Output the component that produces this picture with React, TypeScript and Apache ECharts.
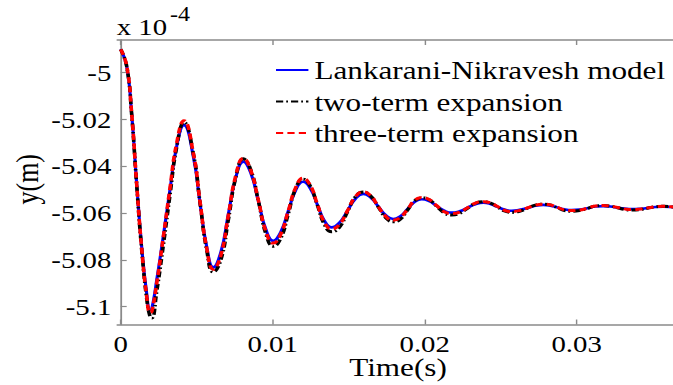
import React, { useEffect, useRef } from "react";
import * as echarts from "echarts";

// time (s)
const T = [
  0, 0.0004, 0.00072, 0.00105, 0.00138, 0.00171, 0.00193, 0.00205, 0.00237, 0.0028,
  0.00324, 0.00368, 0.00416, 0.00478, 0.00522, 0.00566, 0.00609, 0.00659, 0.00708, 0.00758,
  0.00807, 0.00856, 0.00906, 0.00955, 0.01004, 0.01053, 0.01102, 0.01151, 0.012, 0.01247,
  0.01294, 0.01341, 0.01388, 0.0144, 0.01492, 0.01544, 0.01596, 0.01645, 0.01695, 0.01744,
  0.01793, 0.0184, 0.01887, 0.01933, 0.0198, 0.0203, 0.02079, 0.02129, 0.02178, 0.0223,
  0.02282, 0.02334, 0.02386, 0.02433, 0.02479, 0.02526, 0.02572, 0.02624, 0.02676, 0.02728,
  0.0278, 0.02827, 0.02874, 0.0292, 0.02967, 0.03019, 0.03071, 0.03123, 0.03175, 0.03222,
  0.03269, 0.03315, 0.03362, 0.03414, 0.03466, 0.03518, 0.0357, 0.0362, 0.0368, 0.0375,
];

// y (x 1e-4 m)
const LANKARANI = [
  -4.99, -4.9974, -5.0174, -5.0473, -5.0744, -5.0943, -5.1014, -5.1008, -5.0886, -5.07,
  -5.0501, -5.0316, -5.0224, -5.0359, -5.0558, -5.0744, -5.0832, -5.0766, -5.0606, -5.0446,
  -5.038, -5.0429, -5.0549, -5.0669, -5.0718, -5.0681, -5.0592, -5.0503, -5.0466, -5.0494,
  -5.0564, -5.0633, -5.0661, -5.064, -5.059, -5.0539, -5.0518, -5.0534, -5.0572, -5.0609,
  -5.0625, -5.0613, -5.0583, -5.0553, -5.0541, -5.0549, -5.057, -5.059, -5.0598, -5.0592,
  -5.0577, -5.0562, -5.0556, -5.0561, -5.0573, -5.0585, -5.059, -5.0586, -5.0578, -5.0569,
  -5.0565, -5.0568, -5.0576, -5.0584, -5.0587, -5.0585, -5.0579, -5.0572, -5.057, -5.0572,
  -5.0577, -5.0581, -5.0583, -5.0582, -5.0578, -5.0574, -5.0573, -5.0574, -5.0577, -5.058,
];

const TWO_TERM = [
  -4.99, -4.9974, -5.0176, -5.0478, -5.0755, -5.0965, -5.1042, -5.1048, -5.0935, -5.074,
  -5.0525, -5.032, -5.0212, -5.0345, -5.0555, -5.0758, -5.0852, -5.08, -5.063, -5.0445,
  -5.0368, -5.0415, -5.0548, -5.0688, -5.0742, -5.0708, -5.0605, -5.0495, -5.0455, -5.0484,
  -5.0566, -5.065, -5.068, -5.066, -5.0595, -5.053, -5.051, -5.0527, -5.0574, -5.062,
  -5.0637, -5.0626, -5.0587, -5.0548, -5.0535, -5.0543, -5.0571, -5.0599, -5.0608, -5.0601,
  -5.0579, -5.0558, -5.0552, -5.0557, -5.0574, -5.0591, -5.0597, -5.0592, -5.0579, -5.0566,
  -5.0562, -5.0565, -5.0577, -5.0589, -5.0592, -5.0589, -5.058, -5.057, -5.0568, -5.057,
  -5.0577, -5.0584, -5.0587, -5.0585, -5.0579, -5.0573, -5.0571, -5.0573, -5.0578, -5.0581,
];

const THREE_TERM = [
  -4.99, -4.9972, -5.0172, -5.0474, -5.075, -5.0955, -5.1025, -5.102, -5.09, -5.0705,
  -5.0495, -5.0302, -5.0205, -5.0345, -5.0552, -5.075, -5.084, -5.078, -5.061, -5.0438,
  -5.0366, -5.0418, -5.0546, -5.0677, -5.0728, -5.069, -5.0592, -5.0492, -5.0451, -5.0481,
  -5.0562, -5.064, -5.0668, -5.0648, -5.059, -5.053, -5.0509, -5.0526, -5.0572, -5.0614,
  -5.063, -5.0618, -5.0584, -5.0546, -5.0533, -5.0542, -5.0568, -5.0594, -5.0602, -5.0596,
  -5.0577, -5.0557, -5.0551, -5.0556, -5.0572, -5.0588, -5.0593, -5.0589, -5.0578, -5.0566,
  -5.0562, -5.0565, -5.0576, -5.0586, -5.0589, -5.0587, -5.0579, -5.057, -5.0568, -5.057,
  -5.0576, -5.0582, -5.0585, -5.0583, -5.0578, -5.0573, -5.0571, -5.0573, -5.0577, -5.058,
];

const SERIES_NAMES = ["Lankarani-Nikravesh model", "two-term expansion", "three-term expansion"];
const X_TICKS = [0, 0.01, 0.02, 0.03];
const Y_TICKS = [-5.1, -5.08, -5.06, -5.04, -5.02, -5];

const S = 1.2; // horizontal stretch of the original figure
const W = 673 / S;
const FONT = "'Liberation Serif', 'Times New Roman', serif";
const GRAY = "#8a8a8a";
const X_MIN = -0.000223;
const X_MAX = 0.0375;
const Y_MIN = -5.1076;
const Y_MAX = -4.98603;

const fmt = (v: number) => String(Math.round(v * 100) / 100);

export default function App() {
  const ref = useRef<HTMLDivElement>(null);
  useEffect(() => {
    if (!ref.current) return;
    const chart = echarts.init(ref.current, null, { renderer: "svg" });
    const mk = (vals: number[]) => T.map((t, i) => [t, vals[i]]);
    const axisLine = { show: true, lineStyle: { color: GRAY, width: 1.5 } };
    const option: any = {
      animation: false,
      backgroundColor: "#fff",
      textStyle: { fontFamily: FONT },
      grid: { left: 97.75, top: 40, width: 477.8, height: 284.5, outerBoundsMode: "none" },
      xAxis: [
        {
          type: "value",
          position: "bottom",
          min: X_MIN,
          max: X_MAX,
          axisLine,
          axisTick: { show: true, inside: true, length: 5, customValues: X_TICKS, lineStyle: { color: GRAY, width: 1.2 } },
          axisLabel: { customValues: X_TICKS, color: "#000", fontSize: 24, lineHeight: 20, fontFamily: FONT, margin: 9, formatter: fmt },
          splitLine: { show: false },
          name: "Time(s)",
          nameLocation: "middle",
          nameGap: 31,
          nameMoveOverlap: false,
          nameTextStyle: { color: "#000", fontSize: 26, lineHeight: 22, fontFamily: FONT, padding: [0, 10, 0, 0] },
        },
        {
          type: "value",
          position: "top",
          min: X_MIN,
          max: X_MAX,
          axisLine,
          axisTick: { show: true, inside: true, length: 5, customValues: X_TICKS, lineStyle: { color: GRAY, width: 1.2 } },
          axisLabel: { show: false },
          splitLine: { show: false },
        },
      ],
      yAxis: {
        type: "value",
        min: Y_MIN,
        max: Y_MAX,
        axisLine,
        axisTick: { show: true, inside: true, length: 5, customValues: Y_TICKS, lineStyle: { color: GRAY, width: 1.2 } },
        axisLabel: { customValues: Y_TICKS, color: "#000", fontSize: 24, fontFamily: FONT, margin: 5, formatter: fmt },
        splitLine: { show: false },
        name: "y(m)",
        nameLocation: "middle",
        nameGap: 62,
        nameRotate: 90,
        nameMoveOverlap: false,
        nameTextStyle: { color: "#000", fontSize: 26, fontFamily: FONT, padding: [0, 0, 0, 6] },
      },
      legend: {
        orient: "vertical",
        left: 224,
        top: 52,
        itemWidth: 27,
        itemHeight: 14,
        itemGap: 5.5,
        data: SERIES_NAMES,
        itemStyle: { opacity: 0 },
        textStyle: { fontSize: 26, fontFamily: FONT, color: "#000", lineHeight: 26 },
      },
      graphic: [
        { type: "text", left: 97.2, top: 15, style: { text: "x 10", font: `24px ${FONT}`, fill: "#000" } },
        { type: "text", left: 141.7, top: 4, style: { text: "-4", font: `20px ${FONT}`, fill: "#000" } },
      ],
      series: [
        {
          name: SERIES_NAMES[0],
          type: "line",
          data: mk(LANKARANI),
          smooth: true,
          symbol: "none",
          lineStyle: { color: "#0000ff", width: 2.6 },
          itemStyle: { color: "#0000ff" },
        },
        {
          name: SERIES_NAMES[1],
          type: "line",
          data: mk(TWO_TERM),
          smooth: true,
          symbol: "none",
          lineStyle: { color: "#000000", width: 3, type: [6, 2.5, 1.5, 2.5] },
          itemStyle: { color: "#000000" },
        },
        {
          name: SERIES_NAMES[2],
          type: "line",
          data: mk(THREE_TERM),
          smooth: true,
          symbol: "none",
          lineStyle: { color: "#ff0000", width: 3, type: [6, 3.5] },
          itemStyle: { color: "#ff0000" },
        },
      ],
    };
    chart.setOption(option);
    return () => chart.dispose();
  }, []);
  return (
    <div style={{ position: "fixed", left: 0, top: 0, width: 673, height: 385, overflow: "hidden", background: "#fff" }}>
      <div ref={ref} style={{ width: W, height: 385, transform: `scaleX(${S})`, transformOrigin: "0 0" }} />
    </div>
  );
}
